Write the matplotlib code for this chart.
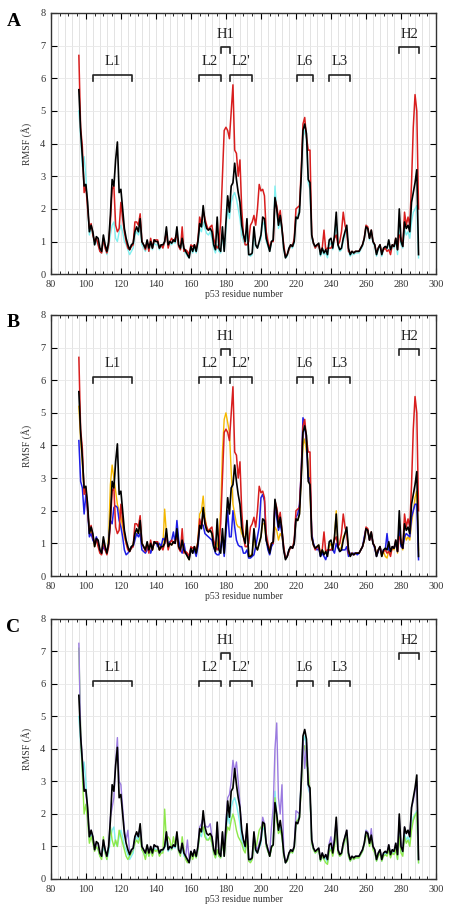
import matplotlib
matplotlib.use('Agg')
import matplotlib.pyplot as plt
import numpy as np

plt.rcParams['font.family'] = ['Liberation Serif', 'DejaVu Serif']

# residue numbers 96..290
residues = np.arange(96, 291)

# RMSF values (Å)
rmsf_black = [5.65, 4.4, 3.6, 2.7, 2.75, 2.2, 1.3, 1.5, 1.3, 0.9,
              1.15, 1.1, 0.8, 0.7, 1.2, 0.9, 0.7, 1.0, 1.8, 2.9,
              2.7, 3.5, 4.05, 2.5, 2.6, 2.0, 1.4, 1.1, 0.9, 0.75,
              0.9, 0.95, 1.3, 1.45, 1.3, 1.7, 1.0, 0.9, 0.8, 1.05,
              0.8, 1.0, 0.8, 1.05, 1.0, 1.0, 0.8, 0.9, 0.9, 1.0,
              1.45, 0.9, 1.0, 0.95, 1.05, 1.0, 1.45, 0.9, 0.8, 1.1,
              0.8, 0.7, 0.6, 0.5, 0.85, 0.7, 0.9, 0.7, 1.0, 1.55,
              1.45, 2.1, 1.6, 1.4, 1.35, 1.4, 1.3, 0.9, 0.75, 1.75,
              0.8, 0.7, 1.45, 0.7, 1.6, 2.4, 1.9, 2.7, 2.8, 3.4,
              2.9, 2.5, 2.2, 1.5, 1.2, 1.0, 1.7, 0.6, 0.6, 0.65,
              1.45, 0.9, 0.8, 1.0, 1.2, 1.75, 1.7, 1.1, 0.9, 0.7,
              1.0, 1.05, 2.35, 2.0, 1.5, 1.8, 1.4, 0.8, 0.5, 0.6,
              0.8, 0.9, 0.85, 1.0, 1.75, 1.7, 1.9, 3.0, 4.4, 4.6,
              4.3, 2.9, 2.8, 1.2, 0.95, 0.85, 0.9, 0.95, 0.6, 0.8,
              0.65, 0.75, 0.6, 1.05, 1.1, 0.8, 1.2, 1.9, 0.9, 0.75,
              0.8, 1.1, 1.3, 1.5, 0.8, 0.6, 0.7, 0.65, 0.7, 0.7,
              0.7, 0.8, 0.9, 1.1, 1.45, 1.4, 1.1, 1.35, 1.0, 0.9,
              0.6, 0.8, 0.9, 0.6, 0.8, 0.85, 0.8, 1.05, 0.75, 0.9,
              0.85, 1.1, 0.75, 2.0, 1.0, 0.85, 1.6, 1.4, 1.5, 1.3,
              2.2, 2.5, 2.8, 3.2, 0.6]

rmsf_red = [6.7, 4.5, 3.9, 2.5, 2.7, 2.0, 1.4, 1.55, 1.2, 1.0,
            1.1, 0.9, 0.7, 0.65, 1.1, 0.8, 0.65, 0.9, 1.6, 2.6,
            2.7, 1.5, 1.3, 1.4, 2.2, 1.7, 1.3, 1.0, 0.8, 0.75,
            0.85, 0.9, 1.6, 1.6, 1.5, 1.85, 1.0, 0.9, 0.75, 1.0,
            0.7, 1.1, 0.8, 1.05, 1.05, 1.05, 0.8, 0.9, 0.8, 1.0,
            1.3, 0.8, 1.0, 1.1, 1.0, 1.1, 1.2, 0.85, 0.75, 1.45,
            0.7, 0.75, 0.7, 0.6, 0.9, 0.85, 0.9, 0.75, 1.05, 1.75,
            1.5, 1.95, 1.7, 1.5, 1.35, 1.45, 1.5, 1.1, 0.9, 0.8,
            0.9, 1.6, 3.0, 4.4, 4.5, 4.4, 4.15, 5.0, 5.8, 3.8,
            3.7, 3.0, 3.5, 2.0, 1.2, 0.9, 0.9, 1.0, 1.5, 1.6,
            1.8, 1.5, 2.0, 2.75, 2.55, 2.6, 2.4, 1.3, 1.0, 0.8,
            1.0, 1.0, 2.3, 2.1, 1.7, 1.95, 1.4, 0.9, 0.55, 0.6,
            0.75, 0.9, 0.85, 1.1, 2.0, 2.05, 2.1, 3.2, 4.6, 4.8,
            4.2, 3.8, 3.8, 1.2, 0.95, 0.8, 0.9, 0.85, 0.7, 0.8,
            1.35, 0.75, 0.8, 0.8, 0.8, 0.9, 1.1, 1.2, 0.9, 1.0,
            1.3, 1.9, 1.5, 1.3, 0.7, 0.65, 0.7, 0.65, 0.7, 0.7,
            0.7, 0.8, 0.9, 1.1, 1.5, 1.45, 1.1, 1.35, 1.0, 0.9,
            0.65, 0.8, 0.9, 0.65, 0.75, 0.8, 0.7, 0.75, 0.6, 0.9,
            0.85, 1.1, 0.75, 1.2, 1.1, 0.85, 1.9, 1.5, 1.75, 1.5,
            2.8, 4.5, 5.5, 5.0, 2.0]

rmsf_cyan = [5.0, 4.2, 3.3, 3.6, 3.0, 2.0, 1.2, 1.4, 1.2, 0.9,
             1.0, 0.9, 0.7, 0.65, 1.0, 0.8, 0.6, 0.8, 1.2, 1.5,
             1.6, 1.1, 1.0, 1.3, 1.5, 1.3, 1.0, 0.9, 0.75, 0.6,
             0.7, 0.8, 1.2, 1.3, 1.2, 1.4, 0.9, 0.8, 0.7, 0.9,
             0.7, 0.9, 0.75, 0.95, 0.9, 0.9, 0.75, 0.85, 0.85, 0.95,
             1.2, 0.85, 0.95, 0.9, 1.0, 0.95, 1.2, 0.85, 0.75, 1.0,
             0.7, 0.65, 0.55, 0.5, 0.8, 0.65, 0.8, 0.65, 0.9, 1.4,
             1.3, 1.6, 1.4, 1.25, 1.2, 1.3, 1.1, 0.8, 0.65, 0.9,
             0.7, 0.65, 1.2, 0.7, 1.4, 2.0, 1.7, 2.2, 2.4, 2.5,
             2.3, 2.0, 1.7, 1.2, 1.0, 0.9, 1.3, 0.6, 0.55, 0.6,
             1.2, 0.85, 0.8, 0.95, 1.1, 1.6, 1.5, 1.0, 0.85, 0.7,
             0.95, 1.1, 2.7, 2.0, 1.4, 1.6, 1.3, 0.75, 0.5, 0.55,
             0.75, 0.85, 0.8, 0.95, 1.7, 1.8, 2.0, 3.0, 4.2, 4.4,
             4.1, 2.8, 2.6, 1.1, 0.9, 0.8, 0.85, 0.9, 0.55, 0.7,
             0.6, 0.65, 0.5, 0.9, 0.95, 0.75, 1.1, 1.6, 0.85, 0.7,
             0.75, 1.0, 1.2, 1.35, 0.7, 0.55, 0.65, 0.6, 0.65, 0.65,
             0.65, 0.75, 0.85, 1.05, 1.5, 1.4, 1.05, 1.3, 0.95, 0.85,
             0.55, 0.75, 0.85, 0.55, 0.75, 0.8, 0.75, 1.0, 0.7, 0.85,
             0.8, 1.0, 0.6, 1.5, 0.9, 0.8, 1.4, 1.2, 1.3, 1.1,
             1.6, 1.9, 2.0, 2.1, 0.5]

rmsf_blue = [4.15, 2.9, 2.7, 1.9, 2.5, 2.0, 1.2, 1.3, 1.1, 1.0,
             1.2, 1.0, 0.8, 0.7, 0.9, 0.8, 0.75, 1.0, 1.7, 1.6,
             2.1, 2.15, 2.1, 1.7, 1.5, 1.2, 0.8, 0.65, 0.7, 0.8,
             0.9, 0.9, 1.1, 1.3, 1.2, 1.3, 0.8, 0.75, 0.7, 0.8,
             0.9, 0.7, 0.85, 1.0, 1.05, 0.9, 1.0, 0.9, 1.15, 1.1,
             1.25, 0.95, 1.05, 1.1, 1.35, 1.0, 1.7, 1.1, 0.8, 0.7,
             1.0, 0.7, 0.65, 0.55, 0.85, 0.7, 0.8, 0.6, 0.9, 1.5,
             1.6, 1.55, 1.3, 1.25, 1.2, 1.15, 1.1, 0.9, 0.7, 0.65,
             0.65, 0.9, 1.2, 0.6, 1.3, 2.0, 1.2, 1.2, 2.0, 1.5,
             1.1, 0.95, 0.9, 0.9, 0.7, 0.7, 0.8, 0.55, 0.55, 0.6,
             0.65, 0.9, 1.2, 1.5, 2.4, 2.5, 2.3, 1.1, 0.8, 0.65,
             0.9, 1.0, 2.2, 1.8, 1.4, 1.6, 1.3, 0.8, 0.55, 0.6,
             0.8, 0.9, 0.85, 1.0, 1.8, 1.9, 2.2, 3.2, 4.85, 4.6,
             4.1, 3.0, 3.0, 1.3, 1.0, 0.85, 0.8, 0.85, 0.6, 0.7,
             0.6, 0.5, 0.7, 0.8, 0.8, 0.8, 0.7, 1.0, 0.85, 0.75,
             0.8, 0.8, 0.8, 0.9, 0.6, 0.7, 0.65, 0.7, 0.7, 0.65,
             0.7, 0.8, 0.9, 1.2, 1.45, 1.4, 1.1, 1.3, 1.0, 0.85,
             0.6, 0.75, 0.9, 0.65, 0.8, 0.8, 1.3, 0.8, 0.75, 0.9,
             0.85, 1.0, 0.75, 1.5, 0.9, 0.85, 1.2, 1.3, 1.25, 1.2,
             1.8, 2.0, 2.2, 2.2, 0.5]

rmsf_orange = [5.2, 4.2, 3.4, 2.6, 2.6, 2.1, 1.3, 1.4, 1.2, 0.9,
               1.1, 1.0, 0.8, 0.7, 1.1, 0.85, 0.7, 1.2, 2.8, 3.4,
               3.0, 2.6, 2.2, 2.0, 1.8, 1.5, 1.2, 1.0, 0.85, 0.8,
               0.9, 0.95, 1.3, 1.4, 1.3, 1.6, 1.0, 0.9, 0.8, 1.0,
               0.8, 1.0, 0.8, 1.0, 1.0, 1.0, 0.8, 0.9, 0.9, 2.05,
               1.3, 0.9, 1.0, 0.95, 1.05, 1.0, 1.3, 0.9, 0.8, 1.0,
               0.8, 0.7, 0.6, 0.5, 0.85, 0.7, 0.9, 0.7, 1.1, 1.9,
               2.0, 2.45, 1.8, 1.5, 1.4, 1.4, 1.3, 1.0, 0.8, 0.9,
               1.2, 2.0, 3.8, 4.8, 5.0, 4.7, 4.4, 3.2, 2.2, 1.9,
               1.6, 1.5, 1.5, 1.3, 1.2, 1.2, 1.7, 0.7, 0.6, 0.7,
               1.2, 0.9, 0.8, 1.0, 1.2, 1.6, 1.6, 1.1, 0.9, 0.7,
               1.0, 1.0, 1.5, 1.4, 1.1, 1.3, 1.2, 0.8, 0.55, 0.6,
               0.8, 0.9, 0.85, 1.0, 1.7, 1.7, 1.9, 3.0, 4.0, 4.2,
               3.8, 3.5, 2.6, 1.2, 0.95, 0.85, 0.9, 0.95, 0.7, 0.8,
               0.7, 0.75, 0.65, 0.9, 1.0, 0.8, 1.2, 2.0, 0.9, 0.8,
               0.9, 1.2, 1.3, 1.4, 0.8, 0.6, 0.7, 0.65, 0.7, 0.7,
               0.7, 0.8, 0.9, 1.1, 1.4, 1.4, 1.1, 1.3, 1.0, 0.9,
               0.6, 0.8, 0.85, 0.6, 0.75, 0.6, 0.55, 0.8, 0.7, 0.85,
               0.8, 1.0, 0.7, 1.6, 0.95, 0.8, 1.3, 1.1, 1.2, 1.1,
               1.6, 2.0, 2.4, 2.6, 0.8]

rmsf_purple = [7.25, 4.5, 3.7, 2.8, 2.7, 2.1, 1.3, 1.5, 1.3, 0.9,
               1.1, 1.1, 0.8, 0.7, 1.2, 0.9, 0.7, 1.0, 1.9, 2.2,
               2.5, 3.6, 4.35, 3.0, 2.9, 2.2, 1.5, 1.2, 1.5, 0.8,
               0.85, 0.95, 1.3, 1.4, 1.3, 1.6, 1.0, 0.9, 0.8, 1.0,
               0.8, 1.0, 0.8, 1.05, 1.0, 1.0, 0.8, 0.9, 0.9, 1.0,
               1.4, 0.9, 1.0, 0.95, 1.05, 1.0, 1.4, 0.9, 0.8, 1.1,
               0.8, 0.7, 1.2, 0.6, 0.85, 0.7, 0.9, 0.7, 1.0, 1.6,
               1.7, 1.9, 1.65, 1.6, 1.6, 1.7, 1.3, 0.9, 0.75, 1.7,
               0.8, 0.7, 1.4, 0.8, 1.8, 2.5, 2.6, 3.0, 3.65, 3.3,
               3.6, 3.0, 2.3, 1.5, 1.2, 1.0, 1.6, 0.6, 0.6, 0.7,
               1.4, 1.0, 0.9, 1.1, 1.3, 1.9, 1.7, 1.1, 0.9, 0.8,
               1.6, 2.2, 4.0, 4.8, 2.5, 2.0, 2.9, 0.9, 0.5, 0.6,
               0.8, 0.9, 0.85, 1.0, 2.1, 2.05, 2.0, 3.0, 4.3, 3.4,
               4.2, 3.0, 2.6, 1.2, 0.95, 0.85, 0.9, 0.95, 0.6, 0.8,
               0.65, 0.75, 0.6, 1.1, 1.3, 0.9, 1.25, 1.8, 0.9, 0.75,
               0.8, 1.1, 1.3, 1.5, 0.8, 0.6, 0.7, 0.65, 0.7, 0.7,
               0.7, 0.8, 0.9, 1.1, 1.5, 1.45, 1.1, 1.55, 1.0, 0.9,
               0.6, 0.8, 0.9, 0.6, 0.8, 0.85, 0.8, 1.05, 0.75, 0.9,
               0.85, 1.1, 0.75, 1.9, 1.0, 0.85, 1.6, 1.4, 1.5, 1.3,
               2.2, 2.4, 2.7, 3.0, 0.6]

rmsf_green = [7.1, 4.6, 3.2, 2.0, 2.3, 1.8, 1.1, 1.3, 1.1, 0.85,
              1.0, 0.9, 0.7, 0.6, 1.3, 0.8, 0.6, 1.0, 1.6, 1.2,
              1.0, 1.2, 1.0, 1.5, 1.3, 1.1, 0.9, 0.7, 0.6, 0.7,
              0.8, 0.9, 1.1, 1.2, 1.1, 1.3, 0.9, 0.8, 0.6, 0.9,
              0.7, 0.9, 0.7, 0.9, 0.85, 0.9, 0.7, 0.8, 0.8, 2.15,
              1.2, 1.3, 1.2, 0.9, 1.3, 1.0, 1.2, 0.85, 0.7, 1.3,
              0.9, 0.6, 0.5, 0.55, 0.8, 0.6, 0.8, 0.65, 0.9, 1.4,
              1.5, 1.6, 1.3, 1.2, 1.2, 1.3, 1.1, 0.8, 0.65, 0.9,
              0.7, 0.65, 1.2, 0.7, 1.3, 1.6, 1.5, 1.8, 2.0, 1.8,
              1.5, 1.3, 1.2, 1.1, 0.9, 0.8, 1.2, 0.55, 0.5, 0.6,
              1.1, 0.9, 1.2, 1.5, 1.6, 1.7, 1.6, 1.0, 0.85, 0.7,
              0.95, 1.05, 2.5, 1.8, 1.4, 1.5, 1.3, 0.75, 0.5, 0.55,
              0.75, 0.85, 0.8, 0.95, 1.8, 1.8, 1.9, 2.8, 3.9, 4.1,
              3.5, 3.4, 2.6, 1.1, 0.9, 0.8, 0.85, 0.9, 0.55, 0.7,
              0.6, 0.5, 0.45, 0.85, 0.9, 0.7, 1.0, 1.5, 0.8, 0.7,
              0.75, 1.0, 1.2, 1.3, 0.7, 0.55, 0.65, 0.6, 0.65, 0.65,
              0.65, 0.75, 0.85, 1.05, 1.35, 1.3, 1.0, 1.25, 0.9, 0.8,
              0.55, 0.7, 0.8, 0.55, 0.7, 0.75, 0.7, 0.9, 0.65, 0.8,
              0.75, 0.9, 0.6, 1.3, 0.8, 0.7, 1.3, 1.1, 1.2, 1.0,
              1.5, 1.8, 1.95, 2.05, 0.5]

# structural regions: label, first residue, last residue, bracket level
region_names = ['L1', 'L2', 'H1', "L2'", 'L6', 'L3', 'H2']
region_start = [104, 164.5, 177, 182.3, 220.7, 239, 279]
region_end = [126.5, 177, 182.5, 195, 229.8, 250.8, 290.3]
region_level = [6.1, 6.1, 6.95, 6.1, 6.1, 6.1, 6.95]

# series per panel, drawn in this order (last on top)
panels = [
    ('A', [(rmsf_cyan, '#7ff0f0', 1.0), (rmsf_red, '#d81e1e', 1.1), (rmsf_black, 'black', 1.2)]),
    ('B', [(rmsf_orange, '#f5b800', 1.0), (rmsf_blue, '#1e1ee6', 1.1),
           (rmsf_red, '#d81e1e', 1.1), (rmsf_black, 'black', 1.2)]),
    ('C', [(rmsf_cyan, '#7ff0f0', 1.0), (rmsf_green, '#8ee84a', 1.0),
           (rmsf_purple, '#9b7be0', 1.0), (rmsf_black, 'black', 1.2)]),
]

fig = plt.figure(figsize=(4.5, 9.14), dpi=100)
axes_rects = [(0.113, 0.700, 0.856, 0.2858),
              (0.113, 0.3698, 0.856, 0.2856),
              (0.113, 0.0383, 0.856, 0.2845)]
letter_y = [0.976, 0.647, 0.313]

for (letter, series), rect, ly in zip(panels, axes_rects, letter_y):
    ax = fig.add_axes(rect)
    ax.set_xlim(80, 300)
    ax.set_ylim(0, 8)

    # light grid
    for gx in np.arange(84, 300, 4):
        ax.axvline(gx, color='#dedede', lw=0.6, zorder=0)
    for gy in range(1, 8):
        ax.axhline(gy, color='#e8e8e8', lw=0.6, zorder=0)

    for vals, col, lw in series:
        ax.plot(residues, vals, color=col, lw=lw)

    for name, x0, x1, lev in zip(region_names, region_start, region_end, region_level):
        ax.plot([x0, x0, x1, x1], [lev - 0.17, lev, lev, lev - 0.17], color='#222222', lw=1.2)
        ax.text((x0 + x1) / 2, lev + 0.2, name, ha='center', va='bottom', fontsize=10.5,
                color='#222222')

    ax.set_xticks(np.arange(80, 301, 20))
    ax.set_xticks(np.arange(80, 301, 5), minor=True)
    ax.set_yticks(np.arange(0, 9, 1))
    ax.tick_params(which='both', direction='in', top=True, right=True, labelsize=7.5, pad=4,
                   labelcolor='#333333')
    ax.tick_params(which='major', length=4, width=0.8)
    ax.tick_params(which='minor', length=2, width=0.6)
    for s in ax.spines.values():
        s.set_linewidth(1.0)
        s.set_color('#333333')
    ax.set_ylabel('RMSF (Å)', fontsize=7, labelpad=6, color='#333333')
    ax.set_xlabel('p53 residue number', fontsize=7, labelpad=1, color='#333333')

    fig.text(0.03, ly, letter, fontsize=14, fontweight='bold', ha='center', va='center')

fig.savefig('out.png', dpi=100)
